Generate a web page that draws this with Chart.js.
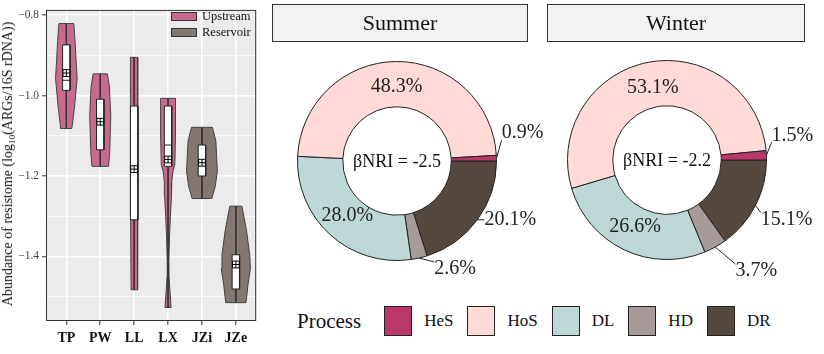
<!DOCTYPE html>
<html>
<head>
<meta charset="utf-8">
<script src="https://cdn.jsdelivr.net/npm/chart.js@4.4.1/dist/chart.umd.min.js"></script>
<style>
  body { margin: 0; width: 824px; height: 354px; background: #fff; position: relative; overflow: hidden;
         font-family: "Liberation Serif", "Times New Roman", serif; color: #111; }
  .wrap { position: absolute; }
  #ytitle { position: absolute; left: 9px; top: 164px; transform: translate(-50%, -50%) rotate(-90deg);
            white-space: nowrap; font-size: 14px; line-height: 1; }
  #ytitle sub { font-size: 9px; vertical-align: -3px; }
  .vleg { position: absolute; left: 171px; font-size: 12.5px; display: flex; align-items: center; }
  .vleg span.sw { width: 24px; height: 7px; border: 1px solid #333; margin-right: 5px; }
  .strip { position: absolute; top: 4px; height: 36px; background: #f2f2f2; border: 1px solid #333;
           font-size: 22px; line-height: 36px; text-align: center; }
  #plegend { position: absolute; left: 297px; top: 305px; height: 32px; display: flex; align-items: center; }
  #plegend .title { font-size: 21px; margin-right: 23px; }
  #plegend .sw { width: 26px; height: 28px; border: 1px solid #222; margin-right: 12px; }
  #plegend .lab { font-size: 17px; margin-right: 14px; }
</style>
</head>
<body>
<div class="wrap" style="left:0;top:0;width:262px;height:354px;"><canvas id="violin"></canvas></div>
<div id="ytitle">Abundance of resistome (log<sub>10</sub>(ARGs/16S rDNA))</div>
<div class="vleg" style="top:9px;"><span class="sw" style="background:#C96990"></span>Upstream</div>
<div class="vleg" style="top:25px;"><span class="sw" style="background:#847670"></span>Reservoir</div>

<div class="strip" style="left:272px;width:254px;">Summer</div>
<div class="strip" style="left:547px;width:256px;">Winter</div>
<div class="wrap" style="left:262px;top:41px;width:290px;height:250px;"><canvas id="summer"></canvas></div>
<div class="wrap" style="left:532px;top:40px;width:290px;height:250px;"><canvas id="winter"></canvas></div>
<div id="plegend"></div>

<script>
// sites and groups
const sites = ["TP", "PW", "LL", "LX", "JZi", "JZe"];
const siteGroup = ["Upstream", "Upstream", "Upstream", "Upstream", "Reservoir", "Reservoir"];

// violin outline: levels (log10 abundance) and density half-width at each level
const violinLevels = [
  [-0.821, -0.864, -0.958, -1.026, -1.074, -1.082],
  [-0.946, -0.978, -1.050, -1.140, -1.176],
  [-0.905, -1.100, -1.300, -1.483],
  [-1.007, -1.100, -1.172, -1.190, -1.215, -1.250, -1.300, -1.350, -1.410, -1.450, -1.490, -1.527],
  [-1.079, -1.113, -1.188, -1.227, -1.256],
  [-1.275, -1.333, -1.396, -1.430, -1.469, -1.515]
];
const violinWidths = [
  [0.22, 0.256, 0.318, 0.244, 0.176, 0.16],
  [0.21, 0.27, 0.31, 0.28, 0.245],
  [0.11, 0.11, 0.105, 0.09],
  [0.22, 0.22, 0.20, 0.14, 0.11, 0.10, 0.07, 0.045, 0.025, 0.03, 0.06, 0.09],
  [0.31, 0.41, 0.455, 0.39, 0.29],
  [0.18, 0.31, 0.41, 0.43, 0.36, 0.30]
];
const boxQ1 = [-0.987, -1.135, -1.309, -1.176, -1.200, -1.481];
const boxQ3 = [-0.874, -1.009, -1.026, -1.026, -1.123, -1.396];
const boxMedian = [-0.962, -1.070, -1.183, -1.123, -1.167, -1.420];
const siteMeans = [-0.944, -1.065, -1.183, -1.159, -1.167, -1.420];
const yTicks = [-1.5, -1.4, -1.3, -1.2, -1.1, -1.0, -0.9, -0.8];

// community assembly processes
const processes = ["HeS", "HoS", "DL", "HD", "DR"];
const summerShare = [0.9, 48.3, 28.0, 2.6, 20.1];
const winterShare = [1.5, 53.1, 26.6, 3.7, 15.1];
const betaNRI = [-2.5, -2.2];

const groupColor = { Upstream: "#C96990", Reservoir: "#847670" };
const processColor = ["#B8386A", "#FFDAD6", "#BDD8D7", "#A69B99", "#55483F"];
const serif = '"Liberation Serif", "Times New Roman", serif';

// ---------- violin panel ----------
const boxHalf = 0.11;
const violinSets = sites.map((s, i) => {
  const c = i + 1;
  const lv = violinLevels[i], w = violinWidths[i];
  const right = lv.map((y, k) => ({ x: c + w[k], y }));
  const left = lv.map((y, k) => ({ x: c - w[k], y })).reverse();
  return {
    data: right.concat(left, [right[0]]),
    backgroundColor: groupColor[siteGroup[i]], borderColor: "#444", borderWidth: 1,
    fill: "shape", pointRadius: 0, tension: 0, order: 6
  };
});
const whiskerSets = sites.map((s, i) => ({
  data: [{ x: i + 1, y: violinLevels[i][0] }, { x: i + 1, y: violinLevels[i][violinLevels[i].length - 1] }],
  borderColor: "#333", borderWidth: 1, pointRadius: 0, fill: false, order: 5
}));
const boxSets = sites.map((s, i) => {
  const c = i + 1;
  return {
    data: [{ x: c - boxHalf, y: boxQ3[i] }, { x: c + boxHalf, y: boxQ3[i] }, { x: c + boxHalf, y: boxQ1[i] },
           { x: c - boxHalf, y: boxQ1[i] }, { x: c - boxHalf, y: boxQ3[i] }],
    backgroundColor: "#fff", borderColor: "#222", borderWidth: 1, fill: "shape", pointRadius: 0, order: 4
  };
});
const medianSets = sites.map((s, i) => ({
  data: [{ x: i + 1 - boxHalf, y: boxMedian[i] }, { x: i + 1 + boxHalf, y: boxMedian[i] }],
  borderColor: "#222", borderWidth: 1, pointRadius: 0, fill: false, order: 3
}));
const meanSets = [
  { data: siteMeans.map((y, i) => ({ x: i + 1, y })), showLine: false, pointStyle: "rect", pointRadius: 4.8,
    pointBackgroundColor: "#fff", pointBorderColor: "#000", pointBorderWidth: 1, order: 2 },
  { data: siteMeans.map((y, i) => ({ x: i + 1, y })), showLine: false, pointStyle: "cross", pointRadius: 3.4,
    pointBorderColor: "#000", pointBorderWidth: 1, order: 1 }
];

const panelBg = {
  id: "panelBg",
  beforeDraw(chart) {
    const a = chart.chartArea, ctx = chart.ctx;
    ctx.save();
    ctx.fillStyle = "#EBEBEB";
    ctx.fillRect(a.left, a.top, a.right - a.left, a.bottom - a.top);
    ctx.restore();
  },
  afterDraw(chart) {
    const a = chart.chartArea, ctx = chart.ctx;
    ctx.save();
    ctx.strokeStyle = "#333";
    ctx.lineWidth = 1;
    ctx.strokeRect(a.left + 0.5, a.top + 0.5, a.right - a.left - 1, a.bottom - a.top - 1);
    ctx.restore();
  }
};

const isMajor = v => Math.abs(Math.round(v * 10)) % 2 === 0;

new Chart(document.getElementById("violin"), {
  type: "line",
  data: { datasets: [...violinSets, ...whiskerSets, ...boxSets, ...medianSets, ...meanSets] },
  options: {
    responsive: true, maintainAspectRatio: false, animation: false, events: [],
    layout: { padding: { left: 16, top: 1, right: 5, bottom: 0 } },
    plugins: { legend: { display: false }, tooltip: { enabled: false } },
    scales: {
      x: {
        type: "linear", min: 0.4, max: 6.6,
        afterBuildTicks: ax => { ax.ticks = sites.map((s, i) => ({ value: i + 1 })); },
        afterFit: ax => { ax.height = 33; },
        border: { display: false },
        grid: { color: "#fff", lineWidth: 1.6, tickLength: 4, tickColor: "#333", tickWidth: 1 },
        ticks: { padding: 5, color: "#111", font: { family: serif, size: 14, weight: "bold" },
                 callback: v => sites[v - 1] }
      },
      y: {
        min: -1.5606, max: -0.787,
        afterBuildTicks: ax => { ax.ticks = yTicks.map(v => ({ value: v })); },
        afterFit: ax => { ax.width = 30; },
        border: { display: false },
        grid: {
          color: "#fff", tickLength: 4, tickWidth: 1,
          lineWidth: c => (c.tick && isMajor(c.tick.value) ? 1.6 : 0.8),
          tickColor: c => (c.tick && isMajor(c.tick.value) ? "#333" : "rgba(0,0,0,0)")
        },
        ticks: { padding: 3, color: "#444", font: { family: serif, size: 11.5 },
                 callback: v => (isMajor(v) ? v.toFixed(1).replace("-", "\u2212") : "") }
      }
    }
  },
  plugins: [panelBg]
});

// ---------- doughnuts ----------
const sliceLabels = {
  id: "sliceLabels",
  afterDraw(chart, args, opts) {
    const ctx = chart.ctx;
    const arcs = chart.getDatasetMeta(0).data;
    const values = chart.data.datasets[0].data;
    ctx.save();
    ctx.fillStyle = "#222";
    ctx.strokeStyle = "#222";
    ctx.lineWidth = 1;
    ctx.textBaseline = "middle";
    ctx.textAlign = "center";
    ctx.font = "20px " + serif;
    arcs.forEach((arc, k) => {
      const name = chart.data.labels[k];
      const text = values[k].toFixed(1) + "%";
      const mid = (arc.startAngle + arc.endAngle) / 2;
      const nudge = opts.nudges[name];
      if (!nudge) {
        const r = (arc.innerRadius + arc.outerRadius) / 2 - 3;
        ctx.fillText(text, arc.x + Math.cos(mid) * r, arc.y + Math.sin(mid) * r);
      } else {
        const sx = arc.x + Math.cos(mid) * arc.outerRadius;
        const sy = arc.y + Math.sin(mid) * arc.outerRadius;
        const tx = sx + nudge[0], ty = sy + nudge[1];
        const w = ctx.measureText(text).width, h = 14;
        const nx = Math.min(Math.max(sx, tx - w / 2), tx + w / 2);
        const ny = Math.min(Math.max(sy, ty - h / 2), ty + h / 2);
        ctx.beginPath();
        ctx.moveTo(sx, sy);
        ctx.lineTo(nx, ny);
        ctx.stroke();
        ctx.fillText(text, tx, ty);
      }
    });
    const a0 = arcs[0];
    ctx.font = "18px " + serif;
    ctx.fillStyle = "#111";
    ctx.fillText("\u03B2NRI = " + opts.nri.toFixed(1), a0.x, a0.y + 1);
    ctx.restore();
  }
};

function makeDonut(id, share, nri, nudges) {
  const idx = processes.map((p, i) => i).reverse(); // drawn counter-clockwise from 3 o'clock
  new Chart(document.getElementById(id), {
    type: "doughnut",
    data: {
      labels: idx.map(i => processes[i]),
      datasets: [{ data: idx.map(i => share[i]), backgroundColor: idx.map(i => processColor[i]),
                   borderColor: "#222", borderWidth: 1 }]
    },
    options: {
      responsive: true, maintainAspectRatio: false, animation: false, events: [],
      rotation: 90, cutout: "54.5%",
      layout: { padding: { left: 35, right: 55, top: 20, bottom: 30 } },
      plugins: { legend: { display: false }, tooltip: { enabled: false },
                 sliceLabels: { nri, nudges } }
    },
    plugins: [sliceLabels]
  });
}
makeDonut("summer", summerShare, betaNRI[0], { HeS: [26, -25], DR: [33, 0], HD: [36, 11] });
makeDonut("winter", winterShare, betaNRI[1], { HeS: [26, -20], DR: [31, 14], HD: [41, 24] });

// process legend
const pl = document.getElementById("plegend");
pl.innerHTML = '<span class="title">Process</span>' + processes.map((p, i) =>
  `<span class="sw" style="background:${processColor[i]}"></span><span class="lab">${p}</span>`).join("");
</script>
</body>
</html>
